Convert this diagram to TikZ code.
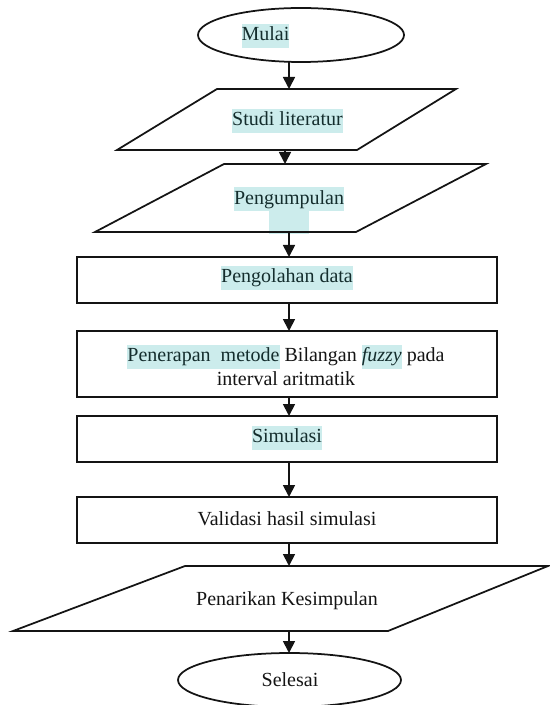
\documentclass[tikz,border=0pt]{standalone}
\usepackage{fontspec}
\setmainfont{Liberation Serif}
\usetikzlibrary{arrows.meta,shapes.geometric,calc}
\definecolor{hl}{RGB}{204,236,236}
\definecolor{hltext}{RGB}{20,45,45}
\definecolor{ink}{RGB}{20,20,20}
\newcommand\hlx[1]{{\setlength\fboxsep{0pt}\colorbox{hl}{\color{hltext}\strut #1}}}
\begin{document}
\begin{tikzpicture}[x=0.6pt,y=-0.6pt,
  shapeline/.style={draw=ink,line width=1.05pt},
  frame/.style={inner sep=0pt,outer sep=0pt,draw=none},
  boxnode/.style={shapeline,rectangle,minimum width=252pt,minimum height=27.6pt,inner sep=0pt,outer sep=0pt},
  term/.style={shapeline,ellipse,inner sep=0pt,outer sep=0pt},
  txt/.style={inner sep=0pt,font=\fontsize{12}{14.4}\selectfont,text=ink,align=center},
  arr/.style={draw=ink,line width=1.05pt,-{Triangle[length=7.2pt,width=7.2pt]}}]
\useasboundingbox (0,0) rectangle (549,705);
\coordinate (colx) at (289,0);
\coordinate (colb) at (285,0);
% shapes
\node[term,minimum width=123.6pt,minimum height=32.4pt] (m) at (301,35) {};
\node[frame,minimum width=203.4pt,minimum height=36.6pt] (p1) at (286.5,119.5) {};
\draw[shapeline] ($(p1.north west)+(100,0)$) -- (p1.north east) -- ($(p1.south east)-(99,0)$) -- (p1.south west) -- cycle;
\fill[hl] (269,211) rectangle (309,234);
\node[frame,minimum width=234.6pt,minimum height=40.8pt] (p2) at (290.5,198) {};
\draw[shapeline] ($(p2.north west)+(129,0)$) -- (p2.north east) -- ($(p2.south east)-(130,0)$) -- (p2.south west) -- cycle;
\node[boxnode] (r1) at (287,280) {};
\node[boxnode,minimum height=39.6pt] (r2) at (287,364) {};
\node[boxnode] (r3) at (287,439) {};
\node[boxnode] (r4) at (287,520) {};
\node[frame,minimum width=321pt,minimum height=39pt] (p3) at (280.5,598.5) {};
\draw[shapeline] ($(p3.north west)+(172,0)$) -- (p3.north east) -- ($(p3.south east)-(160,0)$) -- (p3.south west) -- cycle;
\node[term,minimum width=133.8pt,minimum height=32.4pt] (e) at (289.5,680) {};
% texts
\node[txt] (tm) at (265.5,36) {\hlx{Mulai}};
\node[txt] (t1) at (287.5,121) {\hlx{Studi literatur}};
\node[txt] (t2) at (289,199.5) {\hlx{Pengumpulan}};
\node[txt] (t3) at (287,278) {\hlx{Pengolahan data}};
\node[txt] (t4) at (286,365) {\hlx{Penerapan\ \ metode} Bilangan \hlx{\itshape fuzzy} pada\\interval aritmatik};
\node[txt] (t5) at (287,438) {\hlx{Simulasi}};
\node[txt] (t6) at (287,521) {\strut Validasi hasil simulasi};
\node[txt] (t7) at (287,601) {\strut Penarikan Kesimpulan};
\node[txt] (t8) at (290,682) {\strut Selesai};
% arrows
\draw[arr] (m.south -| colx) -- (p1.north -| colx);
\draw[arr] (p1.south -| colb) -- (p2.north -| colb);
\draw[arr] (p2.south -| colx) -- (r1.north -| colx);
\draw[arr] (r1.south -| colx) -- (r2.north -| colx);
\draw[arr] (r2.south -| colx) -- (r3.north -| colx);
\draw[arr] (r3.south -| colx) -- (r4.north -| colx);
\draw[arr] (r4.south -| colx) -- (p3.north -| colx);
\draw[arr] (p3.south -| colx) -- (e.north -| colx);
\end{tikzpicture}
\end{document}
